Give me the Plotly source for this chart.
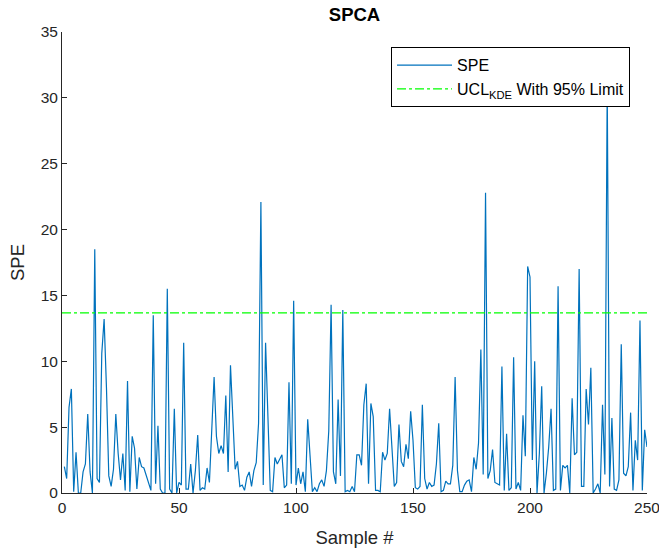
import plotly.graph_objects as go

# SPE statistic per sample (samples 1..250)
spe_values = [
    2.0, 1.1, 6.5, 7.9, 0.1, 3.1, 0.0, 0.0, 1.6, 2.2,
    6.0, 1.6, 0.0, 18.5, 1.1, 0.8, 10.6, 13.2, 8.0, 1.3,
    0.5, 1.8, 6.0, 3.0, 1.0, 3.0, 0.2, 8.5, 0.1, 4.3,
    3.4, 0.3, 2.7, 2.0, 1.9, 1.3, 0.6, 0.2, 13.5, 0.7,
    5.1, 0.3, 0.0, 0.0, 15.5, 0.3, 0.0, 6.4, 0.0, 0.8,
    0.6, 11.4, 0.3, 0.3, 2.2, 0.0, 1.7, 4.4, 0.2, 0.4,
    0.3, 1.9, 0.8, 5.1, 8.8, 4.3, 3.0, 3.6, 3.0, 7.4,
    1.6, 9.7, 5.0, 1.8, 2.4, 0.5, 0.6, 0.2, 1.2, 1.6,
    0.5, 1.7, 2.3, 5.3, 22.1, 0.6, 11.4, 5.0, 0.2, 0.1,
    2.7, 2.2, 2.5, 2.9, 0.4, 0.6, 8.4, 0.7, 14.6, 0.6,
    1.9, 0.7, 1.6, 0.1, 5.6, 2.7, 0.1, 0.4, 0.1, 0.7,
    1.0, 0.5, 1.7, 4.7, 14.3, 1.6, 0.7, 7.1, 1.3, 13.9,
    0.1, 0.2, 0.1, 0.5, 0.1, 2.9, 2.9, 2.1, 6.7, 8.3,
    0.7, 6.8, 5.8, 0.2, 0.2, 0.1, 3.1, 2.5, 3.0, 6.4,
    3.0, 0.5, 0.8, 5.2, 2.4, 2.0, 3.7, 2.6, 6.2, 4.0,
    0.4, 0.3, 0.5, 6.7, 1.1, 0.3, 0.8, 0.5, 0.6, 2.2,
    5.3, 0.1, 0.2, 0.9, 0.7, 0.7, 2.1, 8.8, 1.7, 0.1,
    0.1, 0.6, 0.9, 1.0, 0.1, 2.7, 1.8, 3.8, 10.9, 1.4,
    22.8, 1.1, 1.7, 3.3, 0.8, 0.7, 0.6, 9.6, 0.2, 4.5,
    0.2, 0.4, 10.3, 0.3, 0.8, 0.2, 5.9, 2.8, 17.2, 16.4,
    2.5, 10.0, 0.0, 3.0, 8.1, 0.0, 1.5, 3.5, 6.4, 0.2,
    0.3, 15.7, 0.2, 2.1, 1.9, 2.1, 0.0, 7.2, 2.9, 3.1,
    17.0, 0.5, 0.5, 7.9, 5.2, 9.5, 0.0, 0.3, 0.7, 0.0,
    6.7, 1.4, 31.0, 0.5, 5.7, 0.3, 0.2, 1.0, 11.3, 1.5,
    1.3, 2.0, 6.1, 0.2, 4.0, 2.5, 13.1, 0.2, 4.8, 3.5,
]
sample_index = list(range(1, len(spe_values) + 1))

ucl_value = 13.67
ucl_x = [0, 250]
ucl_y = [ucl_value, ucl_value]

x_ticks = [0, 50, 100, 150, 200, 250]
y_ticks = [0, 5, 10, 15, 20, 25, 30, 35]

FONT = "Liberation Sans, Arial, Helvetica, sans-serif"
AXC = "#262626"

fig = go.Figure()
fig.add_trace(go.Scatter(
    x=sample_index, y=spe_values, mode="lines", name="SPE",
    line=dict(color="#0072BD", width=1.2),
))
fig.add_trace(go.Scatter(
    x=ucl_x, y=ucl_y, mode="lines",
    name="UCL<sub>KDE</sub> With 95% Limit",
    line=dict(color="#00FF00", width=1.2, dash="dashdot"),
))

fig.update_layout(
    width=659, height=551,
    margin=dict(l=62, r=12, t=32, b=58),
    paper_bgcolor="white", plot_bgcolor="white",
    font=dict(family=FONT, color=AXC, size=15),
    title=dict(text="<b>SPCA</b>", x=0.5, xref="paper", xanchor="center",
               y=1 - 15 / 551, yref="container", yanchor="middle",
               font=dict(family=FONT, size=18.5, color="black")),
    showlegend=True,
    legend=dict(x=0.971, y=0.967, xanchor="right", yanchor="top",
                bgcolor="white", bordercolor="black", borderwidth=1,
                font=dict(family=FONT, size=16, color="black"),
                itemwidth=55, tracegroupgap=2),
)
fig.update_xaxes(
    range=[0, 250], tickvals=x_ticks, ticktext=[str(v) for v in x_ticks],
    showline=True, linecolor=AXC, linewidth=1, mirror=False,
    ticks="inside", ticklen=5, tickcolor=AXC, showgrid=False, zeroline=False,
    tickfont=dict(size=15.5, color=AXC), ticklabeloverflow="allow",
    title=dict(text="Sample #", font=dict(size=18.5, color=AXC), standoff=16),
    automargin=False,
)
fig.update_yaxes(
    range=[0, 35], tickvals=y_ticks, ticktext=[str(v) for v in y_ticks],
    showline=True, linecolor=AXC, linewidth=1, mirror=False,
    ticks="inside", ticklen=5, tickcolor=AXC, showgrid=False, zeroline=False,
    tickfont=dict(size=15.5, color=AXC),
    title=dict(text="SPE", font=dict(size=18.5, color=AXC), standoff=11),
    automargin=False,
)

fig.write_html("out.html")
